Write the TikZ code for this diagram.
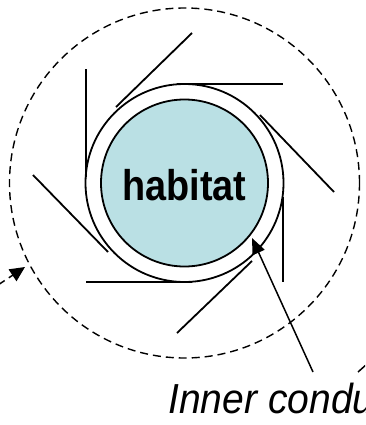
\documentclass[tikz,border=0pt]{standalone}
\usepackage{fontspec}
\setmainfont{Liberation Sans}
\usetikzlibrary{arrows.meta}
\definecolor{habfill}{RGB}{186,224,228}
\begin{document}
\begin{tikzpicture}[x=1pt,y=-1pt,
  blade/.style={line width=1.8pt},
  ringline/.style={line width=1.8pt},
  dashline/.style={line width=1.4pt,dash pattern=on 8pt off 5pt},
  tip/.style={-{Triangle[length=16pt,width=13pt]}},
  smalltip/.style={-{Triangle[length=15pt,width=14pt]}}]
\useasboundingbox (0,0) rectangle (365,425);
\clip (0,0) rectangle (365,425);
% dashed outer circle
\node[draw,dashline,circle,minimum size=350pt,inner sep=0pt] (orbit) at (184.5,183) {};
% solid ring
\node[draw,ringline,circle,minimum size=198pt,inner sep=0pt] (ring) at (184.5,183) {};
% habitat
\node[draw,ringline,circle,fill=habfill,minimum size=167pt,inner sep=0pt] (hab) at (184.5,183) {};
\node[font=\fontsize{43}{43}\selectfont\bfseries,anchor=base,inner sep=0pt] (habtext) at (184.5,200) {\scalebox{0.88}[1]{habitat}};
% blades
\draw[blade] (177,84) -- (283,84);
\draw[blade] (116,107) -- (192,33);
\draw[blade] (86,177) -- (86,69);
\draw[blade] (108,252) -- (33,175);
\draw[blade] (192,282) -- (86,282);
\draw[blade] (252,261) -- (177,333);
\draw[blade] (283,197) -- (283,282);
\draw[blade] (260,115) -- (334,192);
% label
\node[font=\fontsize{42}{42}\selectfont\itshape,anchor=base west,inner sep=0pt] (label) at (168,413) {\scalebox{0.93}[1]{Inner condu}};
\coordinate (lstart) at (313,372);
\coordinate (ltip) at (252,238);
\draw[line width=1.5pt,tip] (lstart) -- (ltip);
% dashed arrow lower left
\coordinate (dstart) at (-2,285);
\coordinate (dtip) at (25,267);
\draw[dashline,smalltip] (dstart) -- (dtip);
% other line at right
\coordinate (ostart) at (358,372);
\coordinate (oend) at (367,364);
\draw[line width=1.5pt] (ostart) -- (oend);
\end{tikzpicture}
\end{document}
